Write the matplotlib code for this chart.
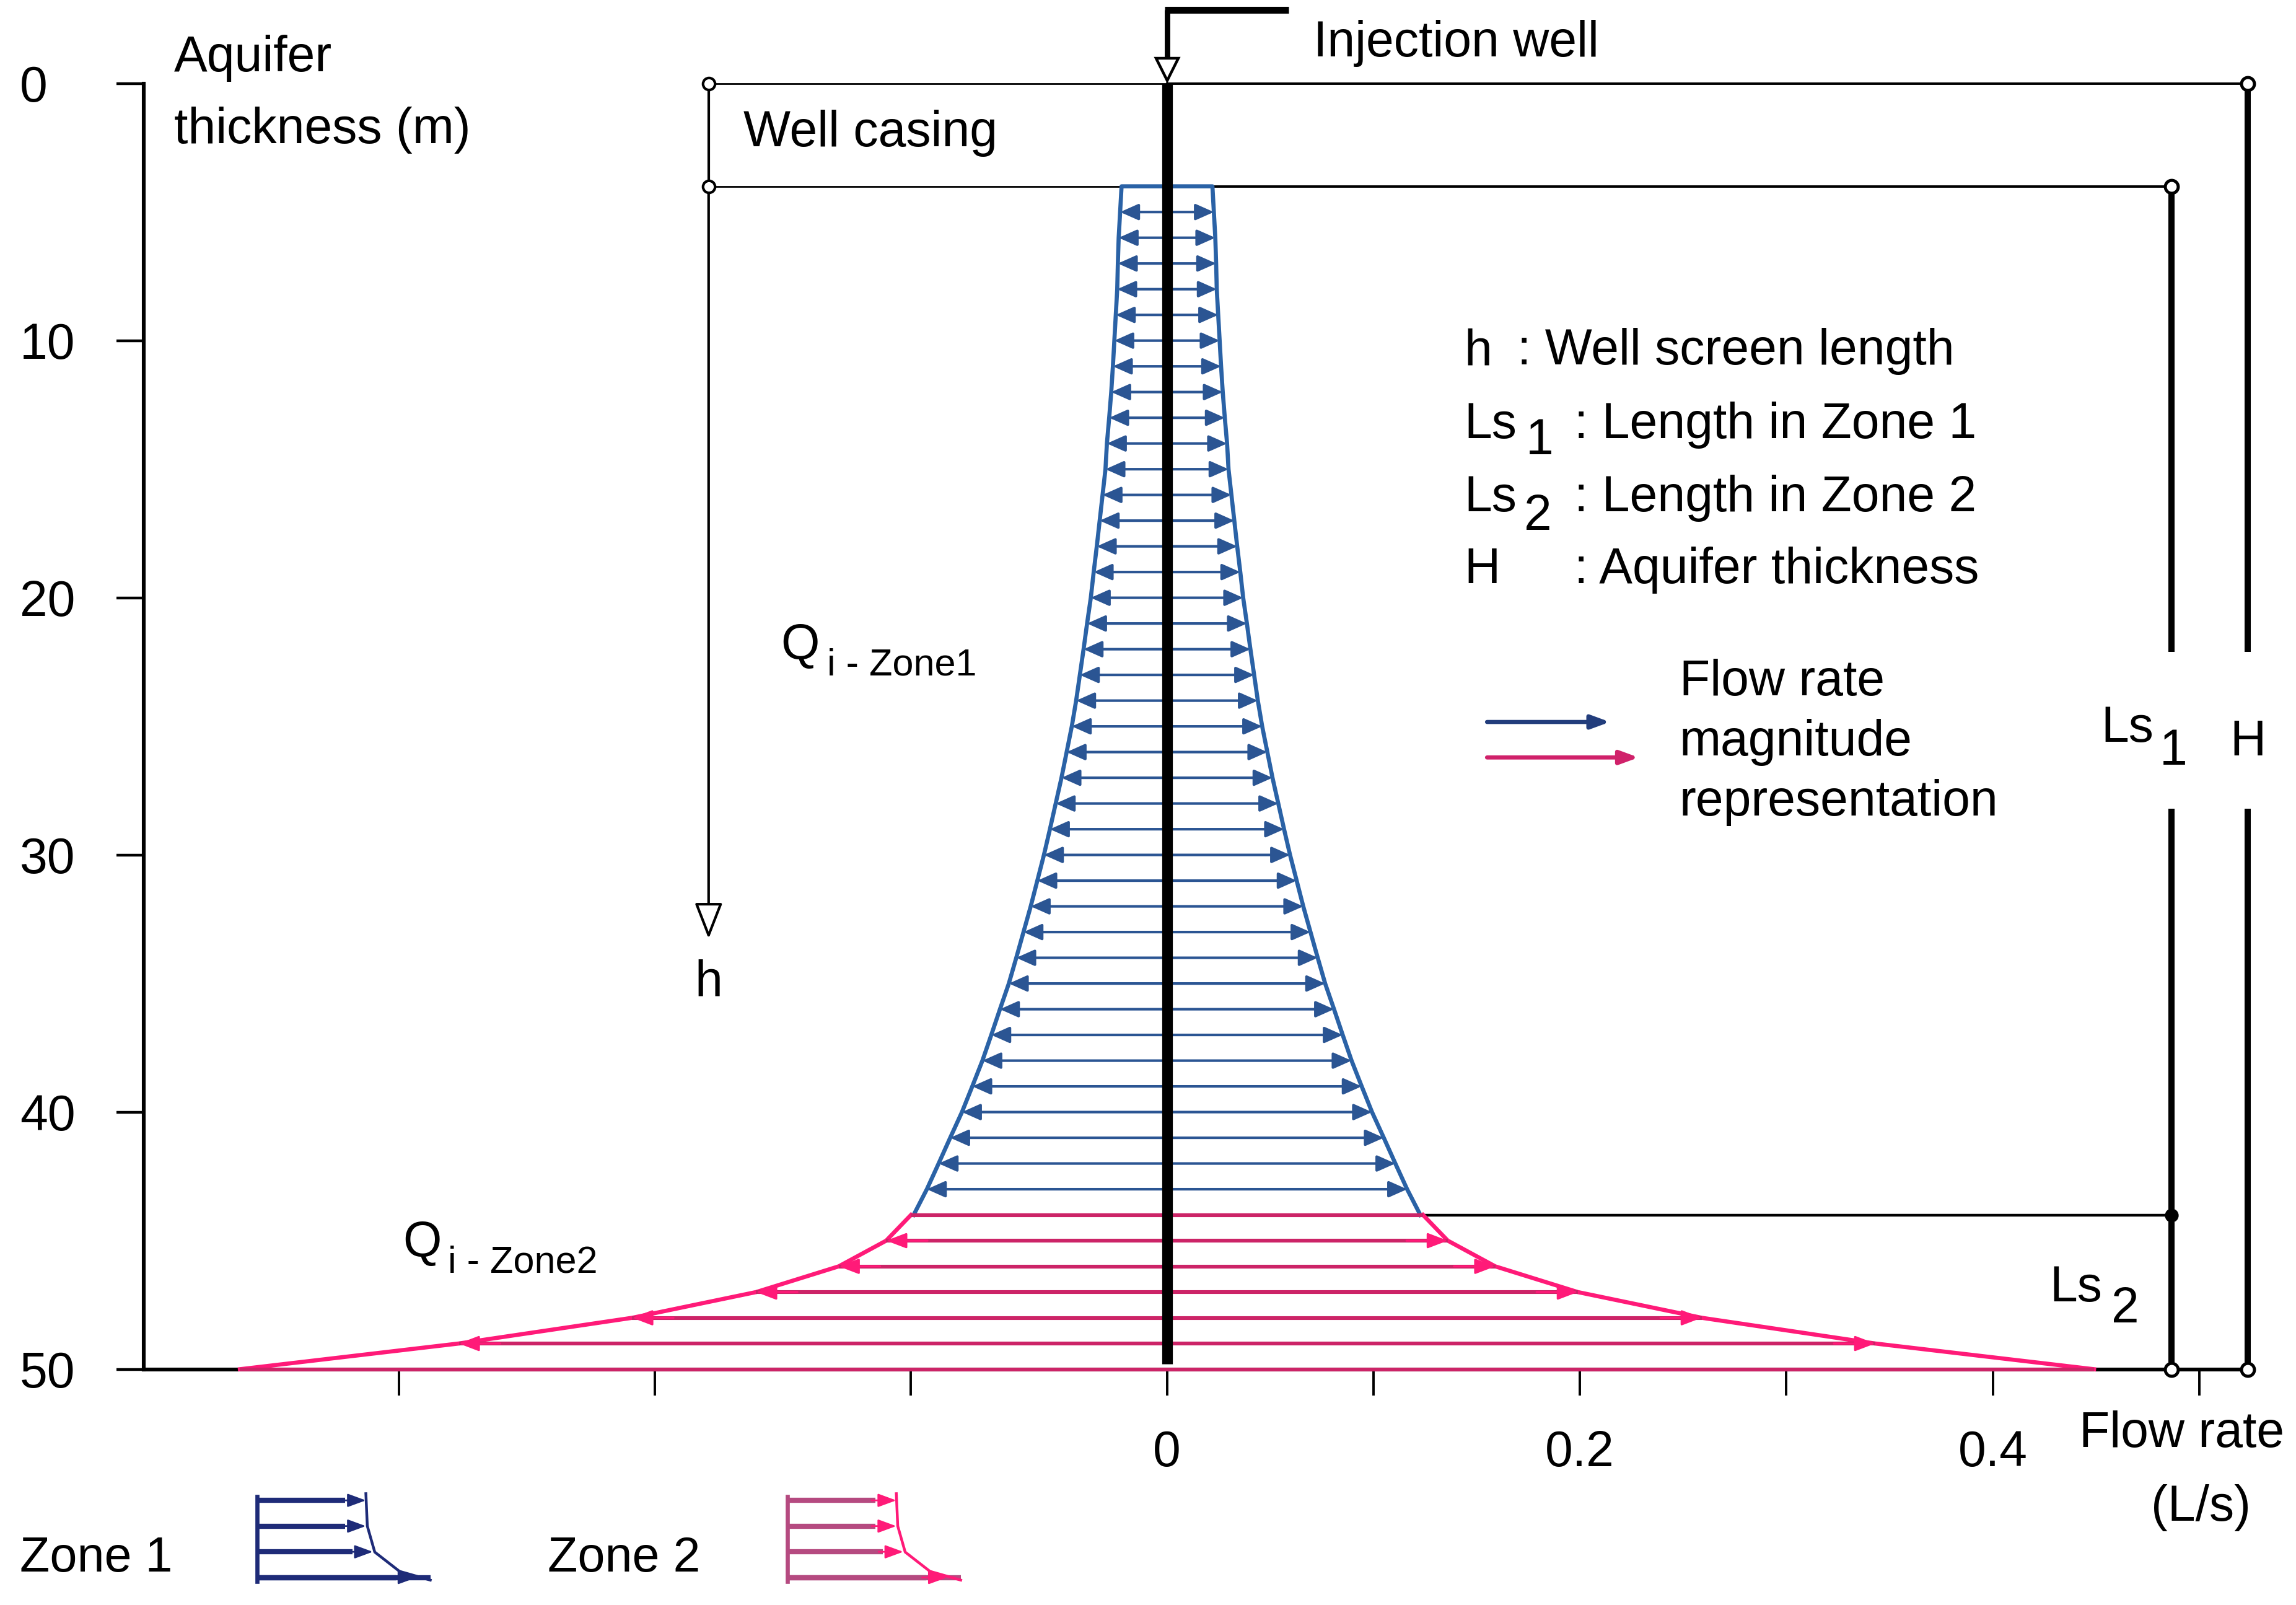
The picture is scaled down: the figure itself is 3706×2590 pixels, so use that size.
import numpy as np
import matplotlib.pyplot as plt

plt.rcParams['font.family'] = ['Liberation Sans', 'DejaVu Sans']

# flow rate per metre of screen (L/s)
depth_zone1 = np.arange(4, 45)
q_zone1 = [0.0220, 0.0227, 0.0234, 0.0238, 0.0241, 0.0248, 0.0255, 0.0262, 0.0270, 0.0280,
           0.0291, 0.0298, 0.0312, 0.0326, 0.0340, 0.0355, 0.0369, 0.0387, 0.0404, 0.0422,
           0.0440, 0.0461, 0.0486, 0.0511, 0.0539, 0.0567, 0.0596, 0.0628, 0.0660, 0.0695,
           0.0730, 0.0766, 0.0809, 0.0851, 0.0894, 0.0943, 0.0993, 0.1050, 0.1106, 0.1163, 0.1227]
depth_zone2 = np.arange(44, 51)
q_zone2 = [0.124, 0.136, 0.159, 0.199, 0.259, 0.343, 0.449]

casing_depth = 4
interface_depth = 44
aquifer_depth = 50

y_ticks = [0, 10, 20, 30, 40, 50]
x_ticks = [-0.372, -0.248, -0.124, 0, 0.1, 0.2, 0.3, 0.4, 0.5]
x_ticklabels = ['', '', '', '0', '', '0.2', '', '0.4', '']

# zone legend glyph: arrow lengths and curve
icon_depth = [55.1, 56.1, 57.1, 58.1]
icon_q = [0.0526, 0.0526, 0.056, 0.0771]
icon_curve_x = [0.0526, 0.0533, 0.0569, 0.0689, 0.0838]
icon_curve_y = [54.84, 56.1, 57.11, 57.86, 58.2]

blue = '#2b5593'
blue_env = '#2a62a6'
pink_line = '#cc2467'
pink_head = '#ff1a78'
fs = 29

fig = plt.figure(figsize=(18.53, 12.95), dpi=200)
ax = fig.add_axes([98/1568, 1-935/1096, 1437/1568, 878/1096])
ax.set_xlim(-0.4957, 0.5234)
ax.set_ylim(aquifer_depth, 0)

for s in ['top', 'right']:
    ax.spines[s].set_visible(False)
for s in ['left', 'bottom']:
    ax.spines[s].set_linewidth(2.2)

ax.set_yticks(y_ticks)
ax.set_yticklabels([str(t) for t in y_ticks])
ax.tick_params(axis='y', direction='out', length=16, width=1.6, labelsize=fs, pad=56)
for lbl in ax.get_yticklabels():
    lbl.set_horizontalalignment('left')
ax.set_xticks(x_ticks)
ax.set_xticklabels(x_ticklabels)
ax.tick_params(axis='x', direction='out', length=15, width=1.4, labelsize=fs, pad=20)


def arrow(x0, y0, x1, y1, color, lw, hl, hw, z=3, fc=None):
    props = dict(arrowstyle='-|>,head_length=%s,head_width=%s' % (hl, hw),
                 color=color, lw=lw, shrinkA=0, shrinkB=0)
    if fc is not None:
        props['fc'] = fc
        props['ec'] = color
    ax.annotate('', xy=(x1, y1), xytext=(x0, y0), arrowprops=props,
                annotation_clip=False, zorder=z)


# zone 1 envelope and arrows
qz1 = np.array(q_zone1)
env_x = np.concatenate([-qz1[::-1], qz1])
env_y = np.concatenate([depth_zone1[::-1], depth_zone1])
ax.plot(env_x, env_y, color=blue_env, lw=2.4, zorder=3, clip_on=False)
for d, q in zip(depth_zone1[1:-1], qz1[1:-1]):
    arrow(0, d, q, d, blue, 1.5, 0.9, 0.4)
    arrow(0, d, -q, d, blue, 1.5, 0.9, 0.4)

# zone 2 envelope and arrows
qz2 = np.array(q_zone2)
ax.plot(-qz2, depth_zone2, color=pink_head, lw=2.4, zorder=3, clip_on=False)
ax.plot(qz2, depth_zone2, color=pink_head, lw=2.4, zorder=3, clip_on=False)
for d, q in zip(depth_zone2, qz2):
    ax.plot([-q, q], [d, d], color=pink_line, lw=2.2, zorder=3, clip_on=False,
            solid_capstyle='butt')
for d, q in zip(depth_zone2[1:-1], qz2[1:-1]):
    arrow(q - 0.02, d, q, d, pink_head, 1.2, 1.0, 0.38, z=3.5)
    arrow(-q + 0.02, d, -q, d, pink_head, 1.2, 1.0, 0.38, z=3.5)

# injection well
ax.plot([0, 0], [0, aquifer_depth - 0.2], color='k', lw=6.2, zorder=4, solid_capstyle='butt')
ax.plot([0, 0], [-2.85, -1.0], color='k', lw=3.2, clip_on=False, solid_capstyle='butt')
ax.plot([-0.0012, 0.059], [-2.85, -2.85], color='k', lw=4.0, clip_on=False, solid_capstyle='butt')
ax.plot([0], [-0.55], marker='v', ms=13, mfc='white', mec='k', mew=1.6, clip_on=False, zorder=5)

# dimension lines
x_h = -0.222
x_ls1 = 0.4865
x_H = 0.5234
ax.plot([x_h, 0], [0, 0], color='k', lw=1.0, clip_on=False)
ax.plot([0, x_H], [0, 0], color='k', lw=1.4, clip_on=False)
ax.plot([x_h, -qz1[0]], [casing_depth] * 2, color='k', lw=1.0, clip_on=False)
ax.plot([qz1[0], x_ls1], [casing_depth] * 2, color='k', lw=1.4, clip_on=False)
ax.plot([qz1[-1], x_ls1], [interface_depth] * 2, color='k', lw=1.6, clip_on=False)
ax.plot([x_h, x_h], [0, casing_depth], color='k', lw=1.5, clip_on=False)
arrow(x_h, casing_depth, x_h, 33.26, 'k', 1.5, 1.8, 0.7, fc='white')
ax.plot([x_h, x_h], [0, casing_depth], 'o', ms=7, mfc='white', mec='k', mew=1.5,
        clip_on=False, zorder=5)

for x0, top in [(x_ls1, casing_depth), (x_H, 0)]:
    ax.plot([x0, x0], [top, 22.1], color='k', lw=3.6, clip_on=False, solid_capstyle='butt')
    ax.plot([x0, x0], [28.2, aquifer_depth], color='k', lw=3.6, clip_on=False,
            solid_capstyle='butt')
    ax.plot([x0, x0], [top, aquifer_depth], 'o', ms=7.5, mfc='white', mec='k', mew=1.8,
            clip_on=False, zorder=5)
ax.plot([x_ls1], [interface_depth], 'o', ms=7, color='k', clip_on=False, zorder=5)

# texts
ax.text(-0.481, -0.48, 'Aquifer', fontsize=fs, va='baseline')
ax.text(-0.481, 2.33, 'thickness (m)', fontsize=fs, va='baseline')
ax.text(-0.205, 2.45, 'Well casing', fontsize=fs, va='baseline')
ax.text(0.0709, -1.05, 'Injection well', fontsize=fs, va='baseline')
ax.text(x_h, 35.47, 'h', fontsize=fs, va='baseline', ha='center')
ax.text(-0.1872, 22.4, 'Q', fontsize=fs, va='baseline')
ax.text(-0.1645, 23.0, 'i - Zone1', fontsize=22, va='baseline')
ax.text(-0.370, 45.63, 'Q', fontsize=fs, va='baseline')
ax.text(-0.3482, 46.24, 'i - Zone2', fontsize=22, va='baseline')

ax.text(0.144, 10.93, 'h', fontsize=fs, va='baseline')
ax.text(0.1695, 10.93, ': Well screen length', fontsize=fs, va='baseline')
ax.text(0.144, 13.78, 'Ls', fontsize=fs, va='baseline')
ax.text(0.1738, 14.41, '1', fontsize=fs, va='baseline')
ax.text(0.1972, 13.78, ': Length in Zone 1', fontsize=fs, va='baseline')
ax.text(0.144, 16.63, 'Ls', fontsize=fs, va='baseline')
ax.text(0.1728, 17.37, '2', fontsize=fs, va='baseline')
ax.text(0.1972, 16.63, ': Length in Zone 2', fontsize=fs, va='baseline')
ax.text(0.144, 19.42, 'H', fontsize=fs, va='baseline')
ax.text(0.1972, 19.42, ': Aquifer thickness', fontsize=fs, va='baseline')

arrow(0.155, 24.83, 0.2145, 24.83, '#223d7c', 2.4, 0.9, 0.33)
arrow(0.155, 26.21, 0.2284, 26.21, '#d0216a', 2.4, 0.9, 0.33)
ax.text(0.2481, 23.8, 'Flow rate', fontsize=fs, va='baseline')
ax.text(0.2481, 26.14, 'magnitude', fontsize=fs, va='baseline')
ax.text(0.2481, 28.47, 'representation', fontsize=fs, va='baseline')

ax.text(0.4525, 25.6, 'Ls', fontsize=fs, va='baseline')
ax.text(x_ls1 + 0.001, 26.5, '1', fontsize=fs, va='baseline', ha='center')
ax.text(x_H, 26.14, 'H', fontsize=fs, va='baseline', ha='center')
ax.text(0.4275, 47.35, 'Ls', fontsize=fs, va='baseline')
ax.text(0.4575, 48.18, '2', fontsize=fs, va='baseline')

ax.text(0.4418, 53.02, 'Flow rate', fontsize=fs, va='baseline')
ax.text(0.5007, 55.9, '(L/s)', fontsize=fs, va='baseline', ha='center')

# zone legend glyphs
ax.text(-0.5555, 57.86, 'Zone 1', fontsize=28.5, va='baseline')
ax.text(-0.300, 57.86, 'Zone 2', fontsize=28.5, va='baseline')
for x0, lc, hc in [(-0.4406, '#1e2b78', '#1e2b78'), (-0.1837, '#b54a80', pink_head)]:
    ax.plot([x0, x0], [54.95, 58.25], color=lc, lw=2.4, clip_on=False)
    ax.plot([x0, x0 + icon_curve_x[-1]], [icon_depth[-1]] * 2, color=lc, lw=3.0,
            clip_on=False, solid_capstyle='butt')
    for d, q in zip(icon_depth, icon_q):
        ax.plot([x0, q + x0 - 0.01], [d, d], color=lc, lw=3.0, clip_on=False,
                solid_capstyle='butt')
        arrow(x0 + q - 0.012, d, x0 + q, d, hc, 1.0, 0.9, 0.33)
    ax.plot(x0 + np.array(icon_curve_x), icon_curve_y, color=hc, lw=1.6, clip_on=False)

fig.savefig('out.png', dpi=200)
